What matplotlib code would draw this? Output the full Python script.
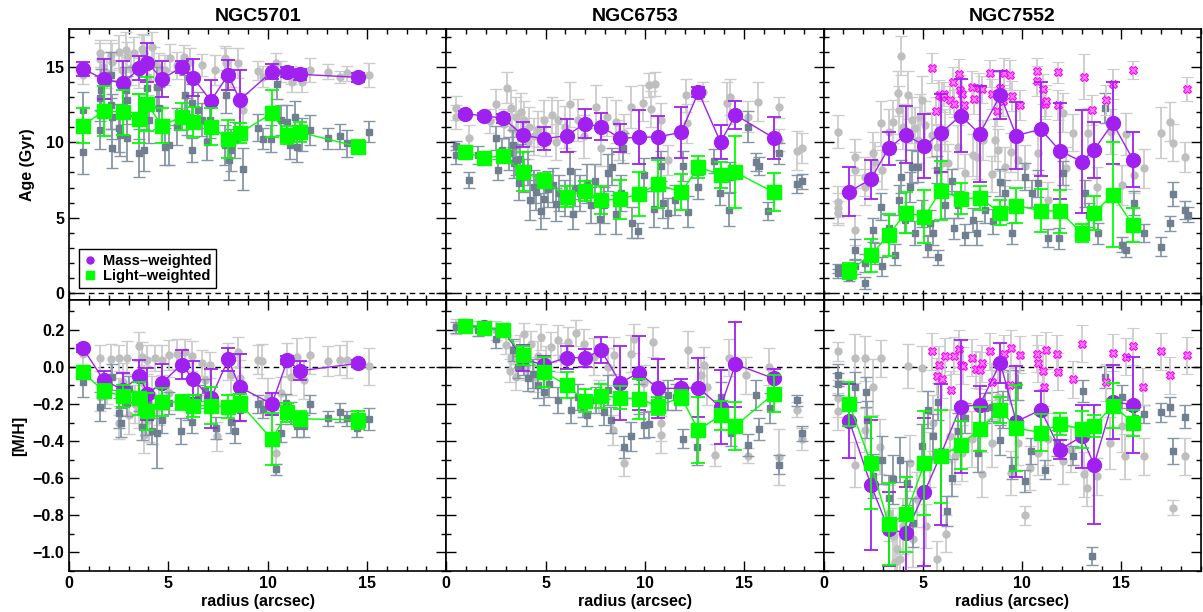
import matplotlib
matplotlib.use('Agg')
import matplotlib.pyplot as plt
from matplotlib.ticker import MultipleLocator
from matplotlib.lines import Line2D

plt.rcParams['font.family'] = ['Liberation Sans', 'DejaVu Sans']
plt.rcParams['font.weight'] = 'bold'
plt.rcParams['axes.labelweight'] = 'bold'

galaxies = ['NGC5701', 'NGC6753', 'NGC7552']

# ---------------- main binned profiles ----------------
r5701 = [0.70, 1.74, 2.72, 3.55, 3.95, 4.68, 5.68, 6.25, 7.14, 8.02, 8.60, 10.22, 11.00, 11.63, 14.53]
age_mw_5701 = [14.86, 14.19, 13.9, 14.9, 15.28, 14.19, 14.97, 14.28, 12.74, 14.46, 12.8, 14.68, 14.64, 14.5, 14.3]
eage_mw_5701 = [0.45, 1.3, 1.5, 0.8, 1.3, 1.2, 0.4, 1.2, 1.4, 1.0, 2.0, 0.5, 0.35, 0.35, 0.3]
age_lw_5701 = [11.1, 12.07, 11.99, 11.57, 12.52, 11.1, 11.68, 11.32, 11.04, 10.22, 10.6, 11.92, 10.46, 10.66, 9.71]
eage_lw_5701 = [1.15, 1.65, 1.5, 1.6, 1.8, 1.15, 0.9, 1.0, 1.2, 1.25, 0.65, 1.55, 0.6, 0.65, 0.45]
mh_mw_5701 = [0.10, -0.07, -0.125, -0.048, -0.145, -0.086, 0.0125, -0.068, -0.17, 0.04, -0.11, -0.2, 0.036, -0.021, 0.018]
emh_mw_5701 = [0.02, 0.05, 0.09, 0.085, 0.14, 0.1, 0.08, 0.1, 0.16, 0.06, 0.18, 0.06, 0.02, 0.05, 0.02]
mh_lw_5701 = [-0.03, -0.13, -0.157, -0.17, -0.24, -0.19, -0.19, -0.21, -0.21, -0.214, -0.196, -0.39, -0.246, -0.28, -0.286]
emh_lw_5701 = [0.03, 0.04, 0.06, 0.09, 0.1, 0.075, 0.04, 0.06, 0.1, 0.06, 0.05, 0.14, 0.05, 0.04, 0.05]

r6753 = [0.94, 1.88, 2.85, 3.84, 4.90, 6.06, 6.96, 7.79, 8.76, 9.70, 10.65, 11.83, 12.70, 13.81, 14.56, 16.48]
age_mw_6753 = [11.9, 11.74, 11.6, 10.49, 10.22, 10.44, 11.21, 11.04, 10.26, 10.33, 10.35, 10.66, 13.33, 10.0, 11.81, 10.29]
eage_mw_6753 = [0.2, 0.2, 0.3, 0.83, 0.76, 1.07, 0.96, 0.88, 0.93, 1.8, 1.4, 1.68, 0.35, 1.14, 0.95, 1.41]
age_lw_6753 = [9.34, 8.96, 9.09, 8.06, 7.44, 6.4, 6.78, 6.16, 6.23, 6.58, 7.22, 6.69, 8.37, 7.84, 8.01, 6.69]
eage_lw_6753 = [0.3, 0.35, 0.35, 1.27, 0.5, 0.7, 0.66, 0.92, 1.3, 1.46, 1.6, 1.2, 0.72, 0.86, 2.37, 1.27]
mh_mw_6753 = [0.218, 0.214, 0.2, 0.045, 0.009, 0.05, 0.048, 0.089, -0.086, -0.032, -0.116, -0.116, -0.112, -0.218, 0.014, -0.0625]
emh_mw_6753 = [0.02, 0.02, 0.02, 0.07, 0.05, 0.06, 0.05, 0.07, 0.2, 0.2, 0.16, 0.05, 0.16, 0.2, 0.23, 0.05]
mh_lw_6753 = [0.218, 0.21, 0.2, 0.0625, -0.027, -0.098, -0.182, -0.155, -0.166, -0.173, -0.21, -0.166, -0.34, -0.262, -0.318, -0.146]
emh_lw_6753 = [0.03, 0.03, 0.03, 0.05, 0.08, 0.07, 0.06, 0.065, 0.06, 0.11, 0.05, 0.04, 0.18, 0.08, 0.13, 0.1]

r7552 = [1.29, 2.38, 3.27, 4.15, 5.08, 5.90, 6.90, 7.86, 8.90, 9.70, 10.94, 11.90, 13.00, 13.62, 14.56, 15.58]
age_mw_7552 = [6.73, 7.55, 9.6, 10.5, 9.76, 10.6, 11.77, 10.55, 13.13, 10.44, 10.86, 9.43, 8.72, 9.49, 11.26, 8.85]
eage_mw_7552 = [1.6, 1.3, 1.1, 1.9, 2.1, 2.6, 2.4, 3.2, 1.6, 2.2, 3.1, 3.2, 3.4, 1.85, 2.7, 1.8]
age_lw_7552 = [1.48, 2.52, 3.86, 5.34, 5.08, 6.8, 6.27, 6.31, 5.32, 5.8, 5.47, 5.43, 3.97, 5.32, 6.53, 4.5]
eage_lw_7552 = [0.55, 1.1, 1.4, 1.35, 1.77, 1.97, 1.0, 0.77, 0.83, 1.16, 1.43, 1.43, 0.6, 1.15, 3.48, 1.13]
mh_mw_7552 = [-0.29, -0.636, -0.875, -0.896, -0.675, -0.473, -0.214, -0.205, 0.021, -0.295, -0.232, -0.446, -0.375, -0.527, -0.1875, -0.205]
emh_mw_7552 = [0.2, 0.35, 0.2, 0.25, 0.4, 0.38, 0.36, 0.1, 0.11, 0.3, 0.1, 0.05, 0.17, 0.32, 0.2, 0.26]
mh_lw_7552 = [-0.2, -0.518, -0.848, -0.795, -0.518, -0.482, -0.42, -0.336, -0.232, -0.33, -0.354, -0.307, -0.336, -0.318, -0.209, -0.3]
emh_lw_7552 = [0.12, 0.25, 0.22, 0.2, 0.28, 0.25, 0.13, 0.12, 0.07, 0.23, 0.1, 0.06, 0.1, 0.06, 0.12, 0.07]

# ---------------- individual bin values: (radius, value, error) ----------------
pts_age_mw_5701 = [(0.70,14.46,0.6),(1.56,15.89,0.9),(1.56,15.5,1.1),(1.69,15.0,1.0),(2.11,15.78,1.0),(2.16,15.34,1.2),(2.52,16.0,1.1),(2.69,14.8,1.0),(2.86,16.1,1.2),(2.94,15.67,1.0),(3.27,15.89,1.1),(3.52,14.57,1.0),(3.69,16.2,1.0),(3.77,15.89,1.2),(4.19,16.3,1.0),(4.27,15.23,1.1),(4.52,15.0,0.9),(4.85,14.8,1.0),(5.43,15.1,0.9),(5.81,15.67,0.8),(6.1,15.34,0.9),(6.68,15.12,0.7),(7.34,14.79,1.0),(7.84,15.56,0.8),(7.92,15.23,1.0),(8.17,14.57,0.9),(8.5,15.23,1.0),(8.75,12.14,1.1),(9.5,14.75,0.6),(9.75,14.35,0.7),(10.42,15.28,0.6),(10.66,14.68,0.7),(11.16,14.46,0.6),(11.25,14.02,0.7),(11.74,14.02,0.7),(12.16,14.79,0.8),(13.02,14.68,0.5),(13.65,14.35,0.4),(14.02,14.57,0.5),(15.12,14.46,0.8),(1.9,14.6,1.0),(3.1,14.9,1.1),(4.0,14.3,1.2),(5.1,15.6,0.9)]
pts_age_lw_5701 = [(0.70,9.38,1.5),(0.73,12.14,1.2),(1.56,12.91,1.5),(1.56,10.82,1.3),(1.61,13.47,1.4),(2.11,14.46,1.5),(2.11,12.47,1.6),(2.16,11.7,1.5),(2.16,9.6,1.3),(2.52,10.93,1.6),(2.56,10.49,1.4),(2.86,13.47,1.5),(2.94,12.8,1.6),(2.94,10.26,1.5),(3.52,9.27,1.6),(3.52,11.7,1.5),(3.77,9.49,1.4),(3.94,13.58,1.4),(4.02,11.48,1.5),(4.44,13.69,1.3),(4.52,12.25,1.4),(4.85,9.71,1.2),(5.02,9.82,1.3),(5.43,11.04,1.2),(5.85,13.13,1.3),(5.93,11.7,1.2),(6.18,12.58,1.3),(6.18,9.49,0.8),(6.51,12.14,1.2),(6.68,11.48,1.1),(6.93,10.04,1.2),(7.09,11.48,1.2),(7.84,9.82,1.3),(7.92,13.13,1.2),(8.04,8.83,1.3),(8.17,9.49,1.4),(8.34,10.15,1.2),(8.75,8.23,1.4),(9.53,10.97,0.9),(9.75,10.22,0.7),(10.17,10.22,0.9),(10.45,13.84,1.0),(10.7,11.48,1.0),(11.0,11.37,1.1),(11.11,9.82,0.9),(11.38,11.7,1.0),(11.46,9.71,1.0),(11.74,10.49,1.1),(12.16,10.82,1.0),(13.02,10.26,0.7),(13.65,10.38,0.8),(14.02,9.93,0.9),(15.12,10.71,0.7)]
pts_mh_mw_5701 = [(0.70,0.07,0.06),(1.56,0.048,0.07),(1.56,-0.16,0.08),(2.11,0.041,0.08),(2.52,0.045,0.07),(2.52,-0.16,0.1),(2.52,-0.30,0.09),(2.94,0.05,0.09),(3.02,-0.26,0.1),(3.52,0.11,0.08),(3.52,-0.23,0.1),(3.69,0.054,0.08),(3.77,-0.09,0.1),(3.77,-0.366,0.1),(3.94,0.039,0.08),(4.02,-0.286,0.12),(4.35,0.045,0.07),(4.52,-0.214,0.1),(4.68,0.036,0.08),(5.02,0.0625,0.08),(5.02,-0.143,0.09),(5.43,0.068,0.08),(5.85,0.08,0.07),(6.18,0.057,0.08),(6.68,0.018,0.07),(6.84,-0.071,0.08),(7.09,0.009,0.07),(7.43,-0.375,0.08),(8.0,0.027,0.1),(8.17,-0.045,0.1),(8.5,0.08,0.08),(8.59,-0.0625,0.1),(9.5,0.039,0.08),(9.7,0.032,0.09),(10.0,-0.16,0.1),(10.42,-0.464,0.06),(10.66,-0.143,0.09),(11.0,0.039,0.09),(11.16,-0.054,0.1),(11.5,0.054,0.1),(11.83,-0.071,0.1),(12.16,0.0625,0.1),(13.02,0.03,0.08),(13.65,0.036,0.08),(14.02,0.039,0.1),(15.12,0.004,0.1),(1.9,-0.12,0.08),(2.7,-0.08,0.1),(3.3,-0.2,0.1),(4.2,-0.15,0.1)]
pts_mh_lw_5701 = [(0.70,-0.08,0.08),(1.56,-0.214,0.08),(2.19,-0.054,0.07),(2.52,-0.25,0.08),(2.94,-0.196,0.07),(3.52,-0.16,0.08),(3.69,-0.325,0.07),(3.86,-0.268,0.1),(4.19,-0.348,0.07),(4.44,-0.357,0.19),(4.68,-0.286,0.07),(5.02,-0.196,0.06),(5.65,-0.348,0.07),(6.01,-0.214,0.07),(6.18,-0.295,0.06),(6.51,-0.16,0.06),(6.84,-0.125,0.06),(7.38,-0.33,0.06),(8.17,-0.295,0.06),(8.34,-0.348,0.06),(8.6,-0.232,0.06),(9.53,-0.2,0.05),(9.75,-0.228,0.05),(10.42,-0.553,0.03),(10.7,-0.357,0.05),(10.91,-0.196,0.05),(11.16,-0.25,0.06),(11.5,-0.32,0.06),(11.83,-0.32,0.06),(12.16,-0.2,0.05),(13.02,-0.277,0.04),(13.65,-0.246,0.05),(14.02,-0.278,0.04),(14.49,-0.33,0.05),(15.12,-0.282,0.06),(1.8,-0.15,0.07),(2.6,-0.3,0.08),(3.0,-0.12,0.07),(4.0,-0.2,0.08)]

pts_age_mw_6753 = [(0.49,12.25,0.8),(0.49,11.66,0.8),(1.16,10.26,0.9),(2.5,12.54,1.0),(3.05,13.62,1.0),(3.26,12.25,1.2),(3.51,11.7,1.3),(3.76,12.03,1.2),(4.18,11.04,1.3),(4.43,10.38,1.2),(4.93,11.48,1.3),(5.32,11.81,1.2),(5.6,11.48,1.3),(6.24,12.52,1.5),(6.61,11.48,1.4),(6.95,10.38,1.4),(7.53,12.36,1.4),(7.78,9.6,1.2),(8.07,11.7,1.3),(8.56,11.37,1.4),(8.68,10.15,1.3),(8.96,10.6,1.3),(9.3,12.32,1.4),(9.92,12.58,1.2),(10.22,13.8,0.8),(10.5,13.84,0.8),(10.3,12.19,1.2),(10.8,11.48,1.1),(11.17,8.83,1.0),(12.05,13.11,1.1),(12.11,11.26,1.3),(12.92,13.36,0.6),(14.16,12.58,1.4),(14.28,12.98,1.2),(15.17,11.7,1.0),(15.72,12.69,1.3),(16.76,12.32,0.7),(16.76,10.15,0.7),(17.65,9.43,1.3),(17.9,9.6,1.0),(2.2,11.4,0.8),(2.9,11.2,1.0),(3.3,10.9,1.2),(3.6,10.6,1.3),(3.9,11.5,1.2),(4.1,10.0,1.1),(4.6,10.9,1.2),(5.0,10.4,1.3),(5.5,10.0,1.2),(6.0,11.0,1.4)]
pts_age_lw_6753 = [(0.49,9.78,0.3),(0.49,9.16,0.6),(1.16,7.5,0.5),(1.58,9.16,0.6),(2.5,10.26,0.8),(2.58,8.17,0.7),(3.17,9.27,1.1),(3.34,9.82,1.0),(3.51,8.83,1.0),(3.67,7.28,1.1),(4.23,6.18,1.3),(4.43,7.06,1.1),(4.77,5.47,1.2),(4.93,6.25,1.3),(5.35,7.17,1.1),(5.69,6.62,1.2),(6.24,8.12,1.3),(6.36,5.25,1.0),(6.74,6.62,1.2),(7.11,7.28,1.3),(7.28,5.85,1.2),(7.5,7.44,1.1),(7.75,4.92,1.0),(7.95,5.85,1.2),(8.12,7.99,1.2),(8.34,8.39,1.2),(8.54,5.23,1.3),(8.79,6.62,1.2),(8.91,9.6,1.0),(9.35,4.68,1.0),(9.63,4.15,0.5),(9.97,7.84,1.1),(10.47,5.58,1.2),(10.8,8.45,1.0),(10.92,5.96,1.0),(11.17,5.3,1.0),(11.51,6.18,1.0),(11.91,8.45,1.0),(12.15,5.41,1.0),(12.65,7.06,0.8),(13.49,8.76,0.8),(13.79,6.67,0.8),(14.24,5.52,1.1),(14.3,7.68,1.0),(15.17,11.04,1.0),(15.59,8.68,0.6),(15.75,8.45,0.6),(16.21,5.47,0.6),(16.76,9.27,0.7),(17.65,7.22,0.6),(17.9,7.4,0.5),(2.8,9.5,0.8),(3.4,8.6,1.0),(3.7,8.9,1.0),(3.9,7.8,1.1),(4.1,8.3,1.1),(4.5,6.7,1.2),(5.1,6.9,1.2),(5.5,5.9,1.1),(6.0,6.3,1.2),(6.5,7.0,1.2)]
pts_mh_mw_6753 = [(0.49,0.218,0.04),(1.58,0.205,0.04),(2.5,0.196,0.05),(3.26,0.054,0.06),(3.51,-0.054,0.07),(3.93,0.175,0.06),(4.26,0.125,0.07),(4.43,-0.054,0.08),(4.77,0.16,0.07),(5.27,0.107,0.08),(5.6,0.143,0.08),(6.11,0.134,0.08),(6.53,0.18,0.07),(6.95,0.125,0.08),(7.45,0.054,0.1),(7.69,-0.16,0.09),(8.12,0.0,0.1),(8.46,0.0625,0.1),(8.37,-0.34,0.08),(8.96,-0.518,0.07),(9.3,0.071,0.1),(9.46,0.152,0.08),(9.97,-0.089,0.1),(10.39,0.134,0.08),(10.8,-0.366,0.1),(10.8,-0.3,0.1),(12.15,0.093,0.1),(12.82,-0.045,0.1),(12.99,0.009,0.1),(13.15,-0.107,0.1),(13.52,-0.477,0.06),(14.24,0.05,0.1),(15.08,-0.045,0.1),(15.17,-0.48,0.04),(16.26,0.0,0.1),(16.76,-0.486,0.15),(17.65,-0.23,0.04),(17.9,-0.39,0.06),(3.0,0.12,0.05),(3.2,-0.02,0.06),(3.4,0.08,0.06),(3.7,0.1,0.07),(4.0,0.0,0.07),(4.6,0.06,0.08),(5.0,0.03,0.08),(5.8,0.05,0.08)]
pts_mh_lw_6753 = [(0.49,0.214,0.03),(1.58,0.196,0.03),(2.5,0.152,0.05),(3.34,0.089,0.06),(3.93,0.027,0.07),(4.35,-0.036,0.08),(4.93,-0.134,0.07),(5.18,-0.093,0.07),(6.27,-0.232,0.07),(6.61,-0.16,0.07),(7.11,-0.26,0.06),(7.53,-0.18,0.07),(7.95,-0.246,0.07),(8.12,-0.125,0.08),(8.29,-0.286,0.07),(8.93,-0.432,0.06),(9.3,-0.375,0.08),(9.71,-0.175,0.08),(9.97,-0.312,0.07),(10.22,-0.31,0.07),(10.64,-0.16,0.08),(11.14,-0.152,0.08),(11.56,-0.16,0.07),(11.91,-0.387,0.05),(12.62,-0.43,0.1),(13.83,-0.16,0.08),(14.33,-0.357,0.07),(15.17,-0.42,0.06),(15.59,-0.152,0.08),(15.75,-0.336,0.06),(16.31,-0.223,0.08),(16.76,-0.527,0.05),(17.65,-0.18,0.03),(17.9,-0.357,0.04),(3.6,0.0,0.06),(4.1,-0.06,0.07),(4.6,-0.1,0.07),(5.6,-0.18,0.07),(6.9,-0.21,0.06)]

pts_age_mw_7552 = [(0.72,10.7,1.1),(0.72,6.07,1.0),(0.72,5.63,1.0),(0.72,5.3,0.8),(1.59,9.0,1.2),(1.59,8.17,1.2),(1.59,4.19,1.0),(2.09,7.73,1.3),(2.09,7.06,1.2),(2.51,9.27,1.4),(2.6,8.72,1.3),(2.9,11.26,1.5),(2.93,8.17,1.3),(3.27,10.7,1.5),(3.52,11.37,1.4),(3.77,13.25,1.5),(3.9,15.74,1.3),(3.8,12.14,1.6),(4.02,11.04,1.5),(4.27,13.13,1.6),(4.47,11.48,1.5),(4.61,10.93,1.4),(4.74,10.15,1.5),(4.94,12.8,1.6),(4.86,11.7,1.5),(5.11,11.15,1.6),(5.44,10.49,1.5),(5.7,9.71,1.4),(5.95,8.61,1.5),(6.11,10.82,1.4),(6.28,8.61,1.3),(6.78,9.71,1.4),(7.12,7.95,1.3),(7.54,9.16,1.4),(7.7,9.05,1.5),(8.04,10.15,1.3),(8.46,7.9,1.2),(8.63,10.15,1.4),(8.79,9.49,1.4),(9.13,8.39,1.3),(9.46,9.32,1.3),(9.8,8.83,1.3),(10.13,8.43,1.4),(10.8,9.27,1.4),(11.31,6.18,1.2),(12.06,11.96,1.3),(12.23,8.28,1.4),(12.56,10.64,1.2),(13.32,10.64,1.6),(13.79,7.06,1.3),(14.49,10.7,1.5),(15.03,7.17,1.3),(15.24,10.53,1.4),(15.63,7.84,1.2),(16.13,8.28,1.3),(17.0,10.64,1.7),(17.42,11.37,1.3),(17.59,9.98,1.2),(18.22,9.0,1.0)]
pts_age_lw_7552 = [(0.72,1.66,0.3),(0.72,1.32,0.3),(1.26,1.1,0.3),(1.59,2.87,0.7),(1.59,1.77,0.5),(2.09,0.66,0.4),(2.09,1.99,0.6),(2.51,4.19,0.8),(2.6,2.65,0.7),(2.9,5.74,0.9),(2.93,1.77,0.6),(3.27,4.3,0.9),(3.6,2.54,0.7),(3.8,6.18,1.0),(3.9,7.73,1.1),(4.1,4.86,0.9),(4.36,7.06,1.0),(4.44,8.39,1.1),(4.61,3.97,0.8),(4.74,8.39,1.0),(4.94,5.3,0.9),(5.28,3.09,0.7),(5.36,4.68,0.8),(5.53,3.97,0.8),(5.7,8.17,0.9),(5.78,2.38,0.5),(6.11,5.85,0.9),(6.45,7.4,0.8),(6.58,4.3,0.7),(6.78,5.85,0.9),(7.12,3.86,0.7),(7.54,4.86,0.8),(7.7,3.97,0.8),(8.12,5.52,0.9),(8.54,4.75,0.8),(8.88,7.35,0.9),(9.13,6.62,0.9),(9.5,3.97,0.7),(10.13,7.73,0.9),(10.47,6.62,0.9),(10.8,7.28,0.9),(11.31,3.64,0.6),(11.84,3.64,0.7),(12.06,7.95,0.8),(13.15,6.62,0.9),(13.35,5.19,0.8),(13.82,3.97,0.7),(14.19,12.25,1.0),(15.03,3.2,0.5),(15.24,2.87,0.5),(15.63,6.0,0.8),(16.13,3.97,0.6),(17.0,3.09,0.6),(17.42,4.64,0.5),(17.59,6.58,0.8),(18.22,5.52,0.6),(18.33,5.19,0.5)]
pts_mh_mw_7552 = [(0.72,0.084,0.05),(0.72,-0.17,0.1),(0.72,-0.24,0.1),(1.59,0.045,0.13),(1.59,-0.527,0.12),(2.09,0.045,0.12),(2.09,-0.34,0.12),(2.51,-0.107,0.15),(2.9,0.045,0.1),(2.85,-0.43,0.15),(3.27,-0.786,0.15),(3.52,-0.91,0.15),(3.69,-0.98,0.15),(3.85,-1.036,0.15),(3.6,-1.05,0.15),(4.02,-0.857,0.15),(4.27,0.004,0.12),(4.36,-0.518,0.15),(4.52,-0.93,0.15),(4.69,-0.714,0.15),(4.94,-0.009,0.12),(5.14,-0.857,0.12),(5.36,-0.5,0.15),(5.53,-0.304,0.15),(5.7,-1.036,0.1),(6.16,-0.9,0.1),(6.36,-0.375,0.14),(6.62,-0.482,0.15),(6.95,-0.464,0.15),(7.45,-0.39,0.15),(7.96,-0.58,0.12),(8.46,-0.41,0.13),(8.79,-0.16,0.14),(9.46,-0.571,0.12),(9.8,-0.41,0.12),(10.13,-0.8,0.05),(10.39,-0.545,0.12),(10.8,-0.464,0.12),(11.31,-0.39,0.14),(12.06,-0.509,0.12),(12.48,-0.446,0.12),(13.12,-0.58,0.12),(13.28,-0.652,0.1),(13.79,-0.589,0.1),(14.4,-0.41,0.14),(15.03,-0.32,0.14),(15.16,-0.482,0.12),(16.13,-0.482,0.1),(17.59,-0.759,0.04),(18.22,-0.482,0.1)]
pts_mh_lw_7552 = [(0.72,-0.045,0.06),(0.72,-0.093,0.06),(1.59,-0.107,0.08),(2.13,-0.134,0.08),(2.18,-0.286,0.1),(2.51,-0.589,0.12),(2.93,-0.5,0.13),(3.27,-0.705,0.12),(3.52,-0.607,0.13),(3.85,-0.5,0.12),(4.19,-0.625,0.12),(4.52,-0.839,0.13),(4.94,-0.429,0.12),(5.28,-0.232,0.1),(5.53,-0.375,0.12),(5.75,-0.1875,0.1),(6.2,-0.777,0.08),(6.45,-0.598,0.1),(6.78,-0.348,0.1),(7.12,-0.277,0.08),(7.79,-0.464,0.1),(8.12,-0.223,0.08),(8.46,-0.214,0.08),(8.9,-0.393,0.08),(9.05,-0.232,0.1),(9.3,-0.098,0.08),(9.51,-0.545,0.06),(9.8,-0.098,0.08),(10.13,-0.616,0.06),(10.42,-0.455,0.07),(11.14,-0.554,0.05),(11.73,-0.41,0.07),(12.56,-0.479,0.05),(13.07,-0.13,0.06),(13.52,-1.02,0.05),(14.15,-0.054,0.06),(15.03,-0.16,0.06),(15.66,-0.277,0.06),(16.13,-0.254,0.05),(17.0,-0.246,0.05),(17.42,-0.214,0.05),(17.59,-0.455,0.07),(18.22,-0.268,0.06)]

# flagged mass-weighted values in NGC7552
flag_age_7552 = [(5.44,14.9,1.0),(5.64,12.1,0.9),(5.81,13.13,1.0),(5.98,12.98,1.0),(6.08,13.2,0.8),(6.38,12.8,0.9),(6.53,14.0,1.0),(6.57,12.54,0.9),(6.83,14.52,1.0),(6.87,13.47,1.0),(6.99,13.2,1.0),(7.09,12.47,0.9),(7.47,13.69,1.0),(7.55,12.87,1.0),(7.84,13.58,1.0),(7.96,13.5,0.9),(8.36,14.57,0.9),(8.49,13.18,1.0),(8.73,12.1,1.0),(8.88,13.62,1.0),(9.01,12.76,1.0),(9.1,14.57,1.0),(9.4,14.46,1.0),(9.5,13.07,1.0),(9.87,12.47,1.0),(10.75,14.75,0.8),(10.77,14.06,1.0),(11.07,13.5,1.0),(11.14,12.54,1.0),(11.22,12.76,1.0),(11.78,14.64,0.7),(11.79,12.47,1.0),(13.12,14.35,1.5),(13.52,12.14,1.0),(14.24,12.8,1.0),(14.57,13.84,1.0),(15.58,14.77,0.6),(18.29,13.5,0.8)]
flag_mh_7552 = [(5.46,0.084,0.1),(5.8,0.0125,0.1),(5.73,-0.05,0.1),(5.98,-0.066,0.1),(6.11,0.057,0.1),(6.42,-0.125,0.1),(6.55,0.059,0.1),(6.83,0.098,0.1),(6.9,0.009,0.1),(7.0,0.005,0.1),(7.49,0.048,0.1),(7.65,-0.014,0.1),(7.86,-0.018,0.1),(7.96,0.018,0.1),(8.36,0.084,0.1),(8.49,-0.08,0.1),(9.06,0.071,0.1),(9.38,-0.098,0.1),(9.46,0.1,0.1),(9.88,0.066,0.1),(10.75,0.071,0.1),(10.8,0.018,0.1),(11.07,-0.021,0.1),(11.1,-0.11,0.1),(11.22,0.089,0.1),(11.74,0.071,0.1),(11.78,-0.027,0.1),(12.56,-0.068,0.1),(13.03,0.125,0.1),(14.22,-0.084,0.1),(14.57,0.075,0.1),(15.23,0.054,0.1),(15.58,0.11,0.1),(16.1,-0.107,0.1),(17.0,0.084,0.1),(17.42,-0.045,0.1),(18.29,0.0625,0.1)]

# ---------------- style ----------------
PURPLE = '#A020F0'
GREEN = '#00FF00'
LGRAY = '#BEBEBE'
LGRAY_E = '#CCCCCC'
SLATE = '#6F7F8F'
SLATE_E = '#8796A6'
MAGENTA = '#FF00FF'

fig = plt.figure(figsize=(12.03, 6.12), dpi=100)
x0 = 69 / 1203.0
pw = 377.3 / 1203.0
top_b, top_h = 1 - 300 / 612.0, (300 - 29) / 612.0
bot_b, bot_h = 1 - 571 / 612.0, (571 - 300) / 612.0

main = {
    'NGC5701': (r5701, age_mw_5701, eage_mw_5701, age_lw_5701, eage_lw_5701, mh_mw_5701, emh_mw_5701, mh_lw_5701, emh_lw_5701),
    'NGC6753': (r6753, age_mw_6753, eage_mw_6753, age_lw_6753, eage_lw_6753, mh_mw_6753, emh_mw_6753, mh_lw_6753, emh_lw_6753),
    'NGC7552': (r7552, age_mw_7552, eage_mw_7552, age_lw_7552, eage_lw_7552, mh_mw_7552, emh_mw_7552, mh_lw_7552, emh_lw_7552),
}
indiv = {
    'NGC5701': (pts_age_mw_5701, pts_age_lw_5701, pts_mh_mw_5701, pts_mh_lw_5701),
    'NGC6753': (pts_age_mw_6753, pts_age_lw_6753, pts_mh_mw_6753, pts_mh_lw_6753),
    'NGC7552': (pts_age_mw_7552, pts_age_lw_7552, pts_mh_mw_7552, pts_mh_lw_7552),
}
flags = {'NGC7552': (flag_age_7552, flag_mh_7552)}


def style_axes(ax, top):
    ax.set_xlim(0, 19)
    ax.xaxis.set_major_locator(MultipleLocator(5))
    ax.xaxis.set_minor_locator(MultipleLocator(1))
    if top:
        ax.set_ylim(-0.45, 17.5)
        ax.yaxis.set_major_locator(MultipleLocator(5))
        ax.yaxis.set_minor_locator(MultipleLocator(1))
    else:
        ax.set_ylim(-1.1, 0.36)
        ax.yaxis.set_major_locator(MultipleLocator(0.2))
        ax.yaxis.set_minor_locator(MultipleLocator(0.1))
    ax.tick_params(which='both', direction='in', top=True, right=True, labelsize=11.5, width=1.0)
    ax.tick_params(which='major', length=7)
    ax.tick_params(which='minor', length=3.5)
    for s in ax.spines.values():
        s.set_linewidth(1.2)
    ax.axhline(0, color='black', ls=(0, (4, 3)), lw=1.0, zorder=1)


def draw_pts(ax, pts, fmt, mc, ec, ms, z, mfc=None, mew=1.0):
    xs = [p[0] for p in pts]
    ys = [p[1] for p in pts]
    es = [p[2] for p in pts]
    ax.errorbar(xs, ys, yerr=es, fmt=fmt, color=mc, ecolor=ec, ms=ms, mec=mc,
                mfc=mfc if mfc else mc, mew=mew,
                elinewidth=1.3, capsize=4, capthick=1.3, zorder=z)


for i, g in enumerate(galaxies):
    left = x0 + i * pw
    ax_t = fig.add_axes([left, top_b, pw, top_h])
    ax_b = fig.add_axes([left, bot_b, pw, bot_h])
    r, amw, eamw, alw, ealw, mmw, emmw, mlw, emlw = main[g]
    pa_mw, pa_lw, pm_mw, pm_lw = indiv[g]
    for ax, top in ((ax_t, True), (ax_b, False)):
        style_axes(ax, top)
        if top:
            draw_pts(ax, pa_mw, 'o', LGRAY, LGRAY_E, 5, 2)
            draw_pts(ax, pa_lw, 's', SLATE, SLATE_E, 5, 3)
            if g in flags:
                draw_pts(ax, flags[g][0], 'X', MAGENTA, LGRAY_E, 5.5, 4, mfc='#FF80FF', mew=0.8)
            ax.errorbar(r, amw, yerr=eamw, fmt='-o', color=PURPLE, ms=10, lw=1.0,
                        elinewidth=1.3, capsize=5, capthick=1.3, zorder=6)
            ax.errorbar(r, alw, yerr=ealw, fmt='-s', color=GREEN, ms=9.5, lw=1.0,
                        elinewidth=1.3, capsize=5, capthick=1.3, zorder=7)
        else:
            draw_pts(ax, pm_mw, 'o', LGRAY, LGRAY_E, 5, 2)
            draw_pts(ax, pm_lw, 's', SLATE, SLATE_E, 5, 3)
            if g in flags:
                draw_pts(ax, flags[g][1], 'X', MAGENTA, LGRAY_E, 5.5, 4, mfc='#FF80FF', mew=0.8)
            ax.errorbar(r, mmw, yerr=emmw, fmt='-o', color=PURPLE, ms=10, lw=1.0,
                        elinewidth=1.3, capsize=5, capthick=1.3, zorder=6)
            ax.errorbar(r, mlw, yerr=emlw, fmt='-s', color=GREEN, ms=9.5, lw=1.0,
                        elinewidth=1.3, capsize=5, capthick=1.3, zorder=7)
    ax_t.set_title(g, fontsize=14, fontweight='bold', pad=6)
    ax_t.tick_params(labelbottom=False)
    ax_b.set_xlabel('radius (arcsec)', fontsize=11.5, fontweight='bold', labelpad=2)
    if i == 0:
        ax_t.set_ylabel('Age (Gyr)', fontsize=11.5, fontweight='bold', labelpad=8)
        ax_b.set_ylabel('[M/H]', fontsize=11.5, fontweight='bold', labelpad=4)
        handles = [Line2D([], [], ls='none', marker='o', color=PURPLE, ms=5),
                   Line2D([], [], ls='none', marker='s', color=GREEN, ms=5.5)]
        leg = ax_t.legend(handles, ['Mass\u2013weighted', 'Light\u2013weighted'],
                          loc='lower left', bbox_to_anchor=(0.018, 0.035), fontsize=10.5,
                          frameon=True, fancybox=False, edgecolor='black', framealpha=1,
                          handlelength=1.0, handletextpad=0.4, borderpad=0.3,
                          labelspacing=0.1, borderaxespad=0.2)
        leg.get_frame().set_linewidth(1.0)
        for t in leg.get_texts():
            t.set_fontweight('bold')
    else:
        ax_t.tick_params(labelleft=False)
        ax_b.tick_params(labelleft=False)

fig.savefig('out.png', dpi=100)
